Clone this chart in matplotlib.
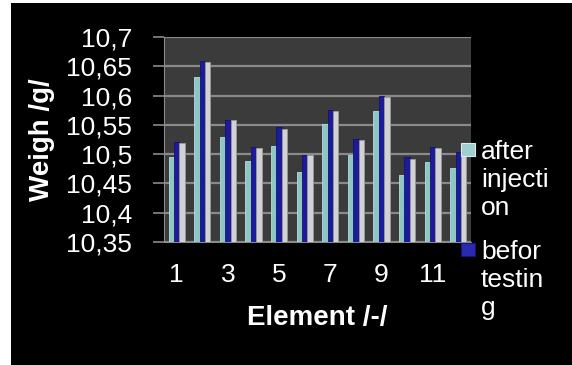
import matplotlib.pyplot as plt
from matplotlib.patches import Rectangle

plt.rcParams['font.family'] = ['Liberation Sans', 'DejaVu Sans']

# Weights per element, three measurements each
elements = list(range(1, 13))
after_injection = [10.495, 10.632, 10.529, 10.489, 10.514, 10.469,
                   10.551, 10.498, 10.574, 10.465, 10.487, 10.477]
befor_testing = [10.520, 10.659, 10.559, 10.512, 10.546, 10.499,
                 10.576, 10.525, 10.599, 10.495, 10.513, 10.504]
after_testing = [10.519, 10.658, 10.558, 10.511, 10.543, 10.498,
                 10.574, 10.524, 10.598, 10.492, 10.510, 10.501]

y_ticks = [10.35, 10.4, 10.45, 10.5, 10.55, 10.6, 10.65, 10.7]
y_tick_labels = ['10,35', '10,4', '10,45', '10,5', '10,55', '10,6', '10,65', '10,7']
x_ticks = [1, 3, 5, 7, 9, 11]

W, H = 572, 365
fig = plt.figure(figsize=(W / 100, H / 100), dpi=100, facecolor='white')

# black panel behind everything
fig.patches.append(Rectangle((11 / W, 0), 1 - 11 / W, (H - 3) / H,
                             transform=fig.transFigure, facecolor='black',
                             edgecolor='none', zorder=-10))

ax = fig.add_axes([164 / W, 123 / H, 307 / W, 205 / H])
ax.set_facecolor('#3b3b3b')

bw = 0.21
xs = [e - bw for e in elements]
ax.bar(xs, [v - 10.35 for v in after_injection], width=bw, bottom=10.35,
       color='#8ec5c5', edgecolor='#b5dcdc', linewidth=0.6, zorder=3)
ax.bar(elements, [v - 10.35 for v in befor_testing], width=bw, bottom=10.35,
       color='#1c1c9a', edgecolor='#12126e', linewidth=0.6, zorder=3)
ax.bar([e + bw for e in elements], [v - 10.35 for v in after_testing], width=bw,
       bottom=10.35, color='#d2d2d2', edgecolor='#9a9a9a', linewidth=0.6, zorder=3)

ax.set_xlim(0.5, 12.5)
ax.set_ylim(10.35, 10.7)
ax.set_yticks(y_ticks)
ax.set_yticklabels(y_tick_labels)
ax.set_xticks(x_ticks)
ax.yaxis.grid(True, color='#8a8a8a', linewidth=1.6, zorder=1)
ax.set_axisbelow(True)

for side in ['top', 'right']:
    ax.spines[side].set_visible(False)
ax.spines['left'].set_color('#8a8a8a')
ax.spines['bottom'].set_color('#8a8a8a')
ax.tick_params(axis='y', colors='#8a8a8a', labelcolor='white', labelsize=19,
               length=8, width=1.2, pad=15)
ax.tick_params(axis='x', length=0, labelcolor='white', labelsize=19, pad=15)

ax.set_xlabel('Element /-/', color='white', fontsize=20, fontweight='bold')
ax.set_ylabel('Weigh /g/', color='white', fontsize=20, fontweight='bold')
ax.xaxis.set_label_coords(0.5, -0.305)
ax.yaxis.set_label_coords(-0.355, 0.5)

# legend on the right, labels wrap inside a narrow box
def px(x, y):
    return x / W, 1 - y / H

for (ytop, color, edge, label) in [(143, '#9fcfcf', '#d8eeee', 'after\ninjecti\non'),
                                   (243, '#2a2ab0', '#15157a', 'befor\ntestin\ng')]:
    x0, y0 = px(461, ytop + 13)
    fig.patches.append(Rectangle((x0, y0), 14 / W, 13 / H, transform=fig.transFigure,
                                 facecolor=color, edgecolor=edge, linewidth=0.8, zorder=5))
    tx, ty = px(481, ytop - 3)
    fig.text(tx, ty, label, color='white', fontsize=19, va='top', ha='left',
             linespacing=1.2)

fig.savefig('out.png', dpi=100, facecolor=fig.get_facecolor())
